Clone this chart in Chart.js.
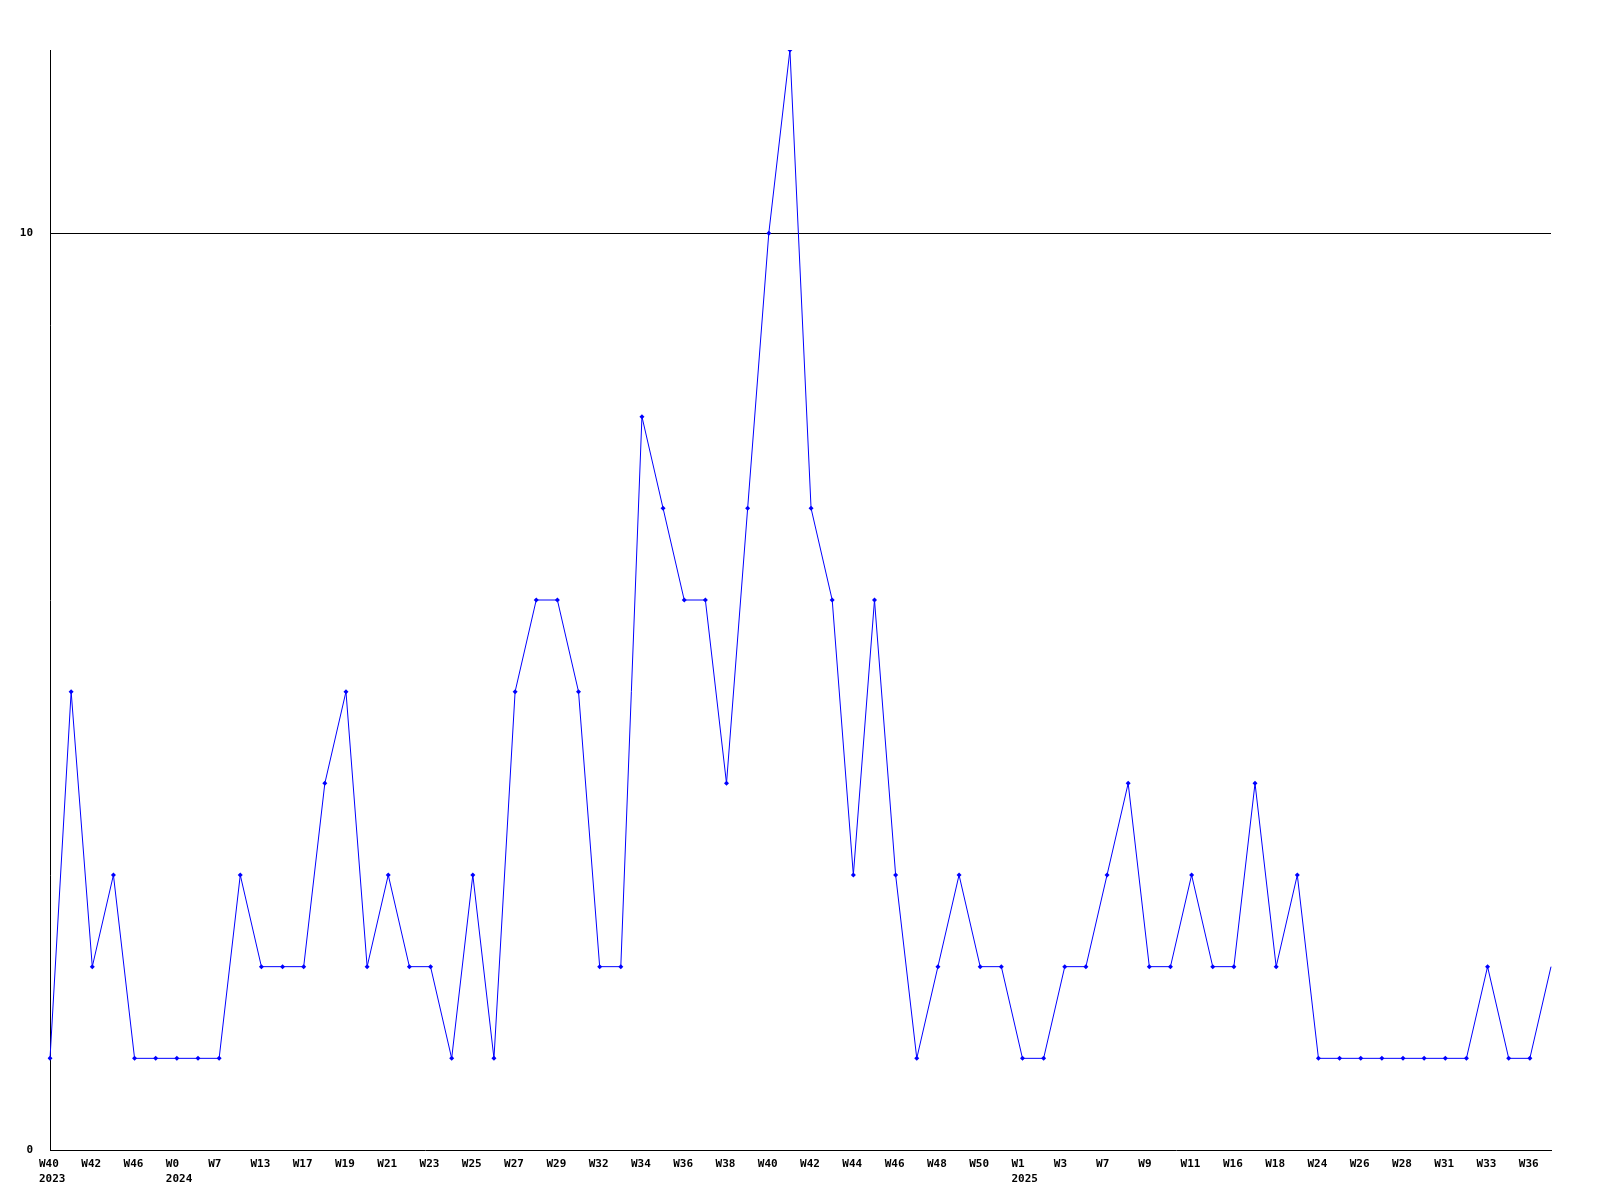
<!DOCTYPE html>
<html>
<head>
<meta charset="utf-8">
<script src="https://cdn.jsdelivr.net/npm/chart.js@4/dist/chart.umd.min.js"></script>
<style>
html,body{margin:0;padding:0;background:#fff;}
canvas{display:block;}
</style>
</head>
<body>
<canvas id="c" width="1600" height="1200"></canvas>
<script>
// Tick labels shown under every other point
const tickLabels = [
  ["W40","2023"], "W42", "W46", ["W0","2024"], "W7", "W13", "W17", "W19", "W21", "W23", "W25", "W27",
  "W29", "W32", "W34", "W36", "W38", "W40", "W42", "W44", "W46", "W48", "W50", ["W1","2025"],
  "W3", "W7", "W9", "W11", "W16", "W18", "W24", "W26", "W28", "W31", "W33", "W36"
];
// Weekly values
const values = [
  1, 5, 2, 3, 1, 1, 1, 1, 1, 3, 2, 2,
  2, 4, 5, 2, 3, 2, 2, 1, 3, 1, 5, 6,
  6, 5, 2, 2, 8, 7, 6, 6, 4, 7, 10, 12,
  7, 6, 3, 6, 3, 1, 2, 3, 2, 2, 1, 1,
  2, 2, 3, 4, 2, 2, 3, 2, 2, 4, 2, 3,
  1, 1, 1, 1, 1, 1, 1, 1, 2, 1, 1, 2
];
const yTicks = [0, 10];

const categories = values.map((v, i) => (i % 2 === 0 ? tickLabels[i / 2] : ""));

const font = { family: "'DejaVu Sans Mono', monospace", size: 11, weight: "bold", lineHeight: 1.4 };

new Chart(document.getElementById("c"), {
  type: "line",
  data: {
    labels: categories,
    datasets: [{
      data: values,
      borderColor: "#0000ff",
      backgroundColor: "#0000ff",
      borderWidth: 1,
      tension: 0,
      fill: false,
      pointStyle: "rectRot",
      pointRadius: (ctx) => (ctx.dataIndex === values.length - 1 ? 0 : 2.5),
      pointBorderWidth: 0,
      pointHoverRadius: 2.5
    }]
  },
  options: {
    responsive: false,
    animation: false,
    events: [],
    layout: { padding: { top: 50, right: 49, left: 0, bottom: 0 } },
    plugins: { legend: { display: false }, tooltip: { enabled: false } },
    scales: {
      x: {
        type: "category",
        offset: false,
        grid: { display: false, drawTicks: false },
        border: { display: true, color: "#000", width: 1 },
        ticks: {
          autoSkip: false,
          maxRotation: 0,
          minRotation: 0,
          align: "start",
          labelOffset: -11,
          padding: 6,
          color: "#000",
          font: font
        },
        afterFit: (s) => { s.height = 50; }
      },
      y: {
        min: 0,
        max: 12,
        afterBuildTicks: (s) => { s.ticks = yTicks.map(v => ({ value: v })); },
        grid: {
          drawTicks: false,
          color: (ctx) => (ctx.tick && ctx.tick.value === 10 ? "#000" : "rgba(0,0,0,0)"),
          lineWidth: 1
        },
        border: { display: true, color: "#000", width: 1 },
        ticks: {
          padding: 17,
          color: "#000",
          font: { family: "'DejaVu Sans Mono', monospace", size: 11, weight: "bold" }
        },
        afterFit: (s) => { s.width = 50; }
      }
    }
  }
});
</script>
</body>
</html>
